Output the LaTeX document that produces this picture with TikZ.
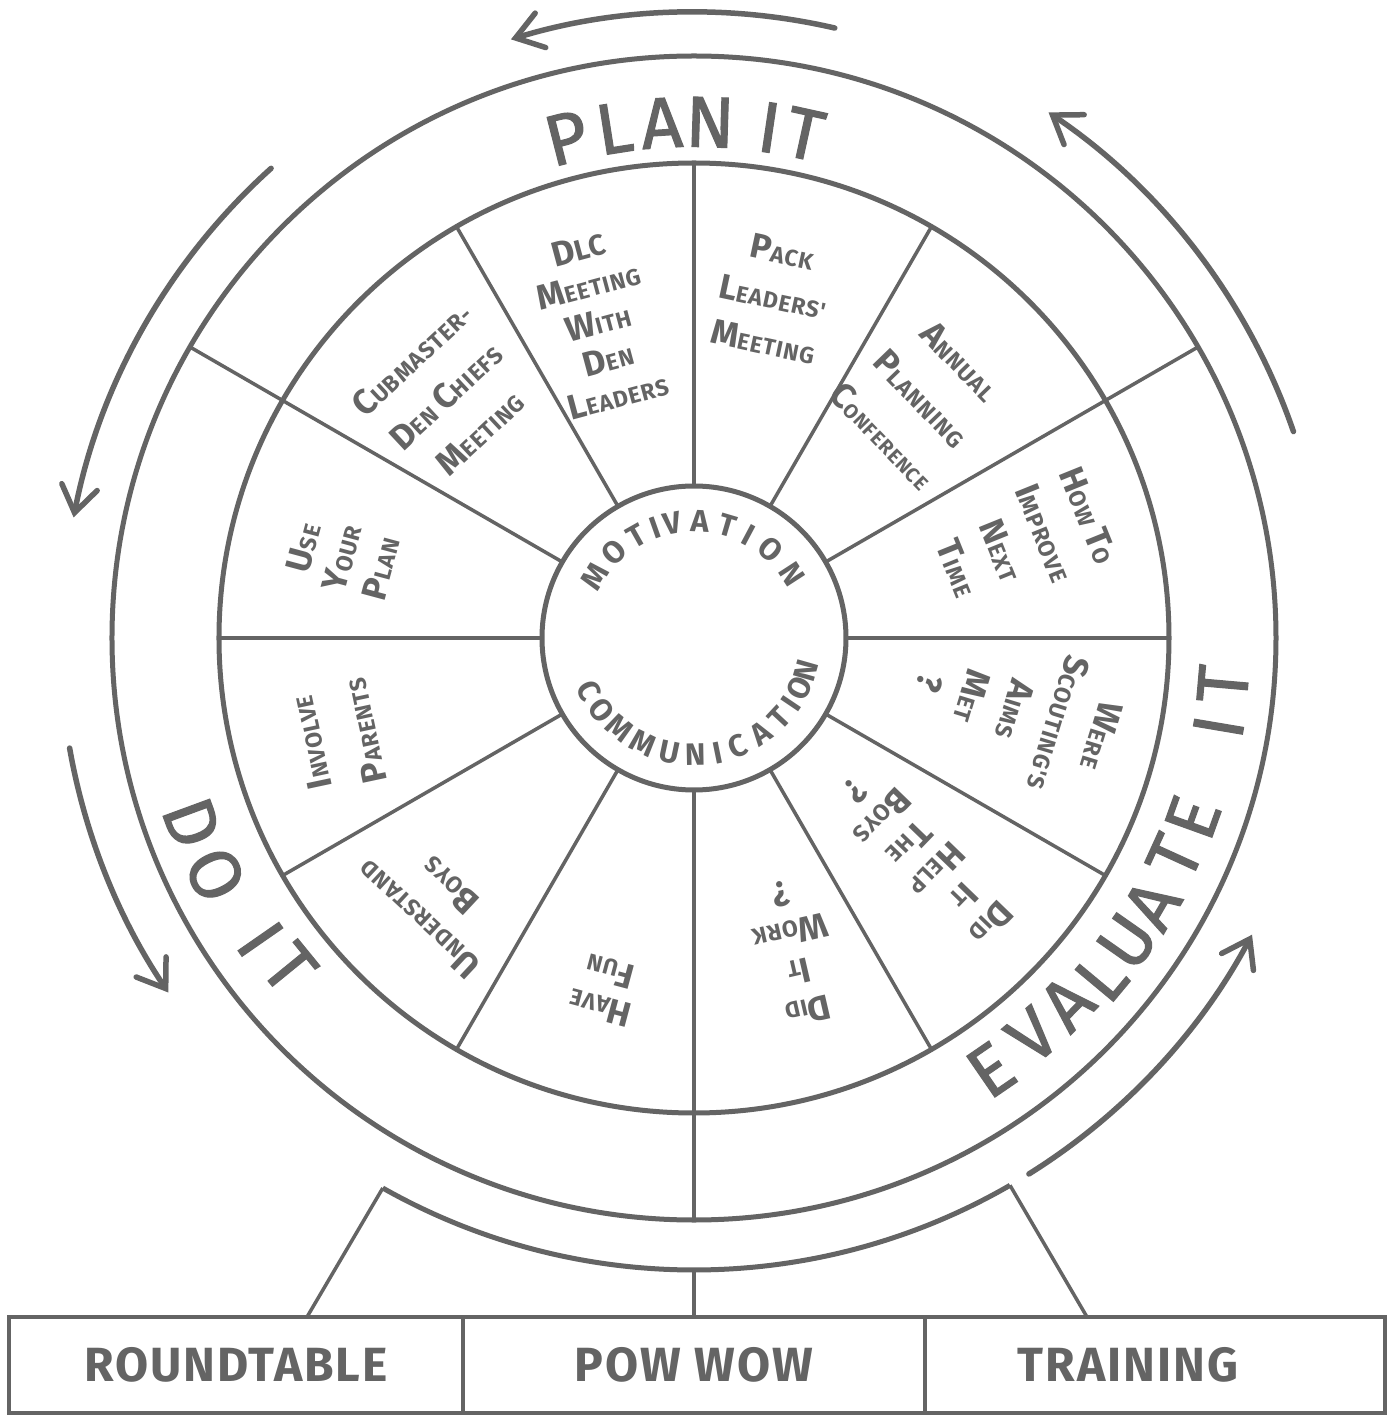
\documentclass[tikz,border=0pt]{standalone}
\usepackage{fontspec}
\setmainfont{Fira Sans}[FakeBold=1.6]
\newfontfamily\hand[LetterSpace=4]{Fira Sans}
\usetikzlibrary{arrows.meta}
\definecolor{ink}{RGB}{100,100,100}
\newcommand\K[1]{{\fontsize{35}{35}\selectfont #1}}
\newcommand\Sm[1]{{\fontsize{20}{20}\selectfont #1}}
\begin{document}
\begin{tikzpicture}[x=1pt,y=1pt,
  ring/.style={draw=ink, line width=5pt},
  div/.style={draw=ink, line width=3.5pt},
  cyc/.style={draw=ink, line width=5.5pt, line cap=round, -{Straight Barb[length=26pt,width=36pt,line cap=round]}},
  big/.style={text=ink, font=\fontsize{72}{72}\selectfont, inner sep=0pt},
  hubl/.style={text=ink, font=\hand\bfseries\fontsize{31}{31}\selectfont, inner sep=0pt},
  seg/.style={text=ink, align=center, inner sep=0pt, font=\hand\bfseries\fontsize{23}{#1}\selectfont},
  base/.style={draw=ink, line width=4.5pt, text=ink, inner sep=0pt, minimum height=96pt, font=\hand\bfseries\fontsize{48}{48}\selectfont}]
\useasboundingbox (-694,-778) rectangle (698,638);
\fill[white] (-694,-778) rectangle (698,638);

% wheel
\draw[ring] (0,0) circle[radius=582];
\draw[ring] (0,0) circle[radius=475];
\draw[ring] (0,0) circle[radius=152];
\foreach \a in {60,90,120,0,-30,-60,-120,-150,180} \draw[div] (\a:152) -- (\a:475);
\foreach \a in {150,30,-90} \draw[div] (\a:152) -- (\a:582);

% cycle arrows
\draw[cyc] (77:626) arc[start angle=77, end angle=107, radius=626];
\draw[cyc] (132:632) arc[start angle=132, end angle=169, radius=632];
\draw[cyc] (190:634) arc[start angle=190, end angle=214, radius=634];
\draw[cyc] (19:634) arc[start angle=19, end angle=56, radius=634];
\draw[cyc] (-58:632) arc[start angle=-58, end angle=-28, radius=632];

% stand
\coordinate (sl) at (-119.5:632);
\coordinate (sr) at (-60:632);
\coordinate (sb) at (-90:632);
\draw[ring] (sl) arc[start angle=-119.5, end angle=-60, radius=632];
\node[base, minimum width=454pt] (rt) at (-458,-727) {ROUNDTABLE};
\node[base, minimum width=462pt] (pw) at (0,-727) {POW WOW};
\node[base, minimum width=460pt] (tr) at (461,-727) {TRAINING\hspace*{54pt}};
\coordinate (lt) at (-387,-679);
\coordinate (rtp) at (393,-679);
\coordinate (mt) at (0,-679);
\draw[div] (sl) -- (lt);
\draw[div] (sr) -- (rtp);
\draw[div] (sb) -- (mt);

% ring labels
\foreach \l/\a [count=\i] in {P/104.3,L/98.9,A/93.6,N/88.2,I/81.6,T/77.6}
  \node[big, rotate=\a-90] (plan\i) at (\a:516) {\l};
\foreach \l/\a/\r [count=\i] in {D/200.2/535,O/206.3/534,I/214.8/528,T/219.2/522}
  \node[big, rotate=\a+90] (do\i) at (\a:\r) {\l};
\foreach \l/\a/\r [count=\i] in {E/-55.5/524,V/-49.6/522,A/-44.4/522,L/-39.8/530,U/-35/529,A/-30.2/530,T/-24.5/528,E/-19.8/530,I/-9.6/532,T/-5/531}
  \node[big, rotate=\a+90] (ev\i) at (\a:\r) {\l};

% hub labels
\foreach \l/\a [count=\i] in {M/148,O/133,T/119.5,I/109.5,V/100.5,A/87,T/73.5,I/62,O/49,N/33}
  \node[hubl, rotate=\a-90] (mot\i) at (\a:117) {\l};
\foreach \l/\a [count=\i] in {C/206.5,O/218,M/230.5,M/244,U/258,N/271,I/281.5,C/292,A/305,T/317,I/326,O/334.5,N/344}
  \node[hubl, rotate=\a+90] (com\i) at (\a:117) {\l};

% segment texts
\node[seg=38, rotate=15] (s1) at (106.9:330) {\K{D}{\fontsize{29}{29}\selectfont LC}\\\K{M}EETING\\\K{W}ITH\\\K{D}EN\\\K{L}EADERS};
\node[seg=46, rotate=-12] (s2) at (77:350) {\K{P}ACK\\\K{L}EADERS'\\\K{M}EETING};
\node[seg=54, rotate=-46] (s3) at (46.5:330) {\K{A}NNUAL\\\K{P}LANNING\\\K{C}\Sm{ONFERENCE}};
\node[seg=47, rotate=-68] (s4) at (16.3:343) {\K{H}OW \K{T}O\\\K{I}MPROVE\\\K{N}EXT\\\K{T}IME};
\node[seg=45, rotate=-107] (s5) at (-12.6:329) {\K{W}ERE\\\K{S}COUTING'S\\\K{A}IMS\\\K{M}ET\\\K{?}};
\node[seg=38, rotate=-134] (s6) at (-43.7:317) {\K{D}ID\\\K{I}T\\\K{H}ELP\\\K{T}HE\\\K{B}OYS\\\K{?}};
\node[seg=40, rotate=-167] (s7) at (-72.2:330) {\K{D}ID\\\K{I}T\\\K{W}ORK\\\K{?}};
\node[seg=38, rotate=165] (s8) at (-104.2:363) {\K{H}AVE\\\K{F}UN};
\node[seg=46, rotate=137] (s9) at (-134.5:371) {\K{U}NDERSTAND\\\K{B}OYS};
\node[seg=55, rotate=102] (s10) at (-164.5:370) {\K{I}NVOLVE\\\K{P}ARENTS};
\node[seg=40, rotate=75] (s11) at (167.2:361) {\K{U}SE\\\K{Y}OUR\\\K{P}LAN};
\node[seg=50, rotate=43] (s12) at (135.7:347) {\K{C}UBMASTER-\\\K{D}EN \K{C}HIEFS\\\K{M}EETING};
\end{tikzpicture}
\end{document}
